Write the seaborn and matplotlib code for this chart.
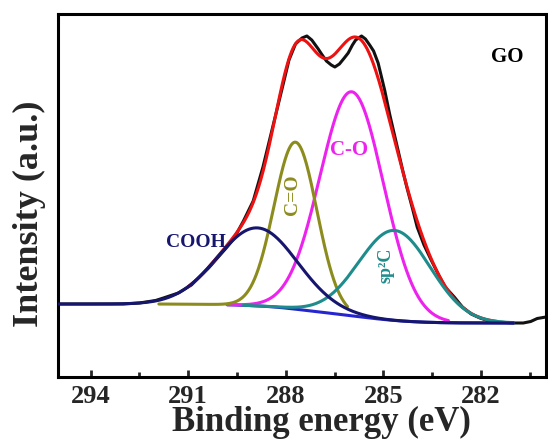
import numpy as np
import seaborn as sns
import matplotlib.pyplot as plt

# raw C1s spectrum of GO (binding energy in eV, intensity in a.u.)
raw_be = [295.0, 294.0, 293.0, 292.5, 292.0, 291.76, 291.3, 290.9, 290.37, 289.83,
          289.6, 289.3, 289.0, 288.7, 288.4, 288.1, 287.9, 287.7, 287.5, 287.35,
          287.2, 287.0, 286.9, 286.75, 286.6, 286.49, 286.35, 286.2, 286.08, 285.95,
          285.85, 285.67, 285.55, 285.42, 285.3, 285.16, 284.96, 284.8, 284.6, 284.4,
          284.28, 284.1, 283.96, 283.75, 283.53, 283.3, 283.1, 282.82, 282.57, 282.3,
          282.03, 281.75, 281.5, 281.25, 280.98, 280.7, 280.47, 280.27, 280.0]
raw_int = [73, 73, 73, 74, 76.5, 79, 84, 92, 109, 129,
           138, 156, 176, 210, 250, 290, 317, 333, 339, 341,
           337, 328, 323, 316, 312, 310, 313, 319, 324, 332,
           337, 341, 338, 332, 326, 314, 287, 262, 234, 206,
           190, 168, 150, 132, 117, 102, 90, 80, 70, 63,
           59, 56, 55, 54.5, 54, 54, 55.5, 58.5, 60]

# fitted components
comp_names = ['COOH', 'C=O', 'C-O', 'sp²C']
comp_center = [288.87, 287.70, 285.97, 284.65]
comp_height = [78, 167, 224, 90]
comp_fwhm = [2.9, 1.55, 2.3, 2.6]
comp_from = [295.0, 291.9, 289.8, 289.3]
comp_to = [281.0, 286.1, 283.0, 281.0]
comp_colors = ['#16166e', '#8c8c1e', '#ee22ee', '#1f8c8c']

# Shirley background end points
bg_high = 73.0
bg_low = 54.0

sns.set_style('ticks')
plt.rcParams['font.family'] = ['Liberation Serif', 'DejaVu Serif']
plt.rcParams['font.weight'] = 'bold'

be = np.linspace(295.0, 281.0, 1401)
peaks = [h * np.exp(-4 * np.log(2) * (be - c) ** 2 / w ** 2)
         for c, h, w in zip(comp_center, comp_height, comp_fwhm)]
total = np.sum(peaks, axis=0)
cum = np.cumsum(total[::-1])[::-1]
bg = bg_low + (bg_high - bg_low) * cum / cum[0]
envelope = bg + total

fig = plt.figure(figsize=(5.48, 4.41), dpi=100)
ax = fig.add_axes([58 / 548, 64 / 441, 488 / 548, 363 / 441])

lw = 2.2
sns.lineplot(x=raw_be, y=raw_int, ax=ax, color='#111111', lw=lw, estimator=None, zorder=2)
m = (be <= 291.0) & (be >= 281.5)
sns.lineplot(x=be[m], y=envelope[m], ax=ax, color='#ee1111', lw=lw, estimator=None, zorder=3)
m = (be <= 289.8)
sns.lineplot(x=be[m], y=bg[m], ax=ax, color='#2626d0', lw=lw, estimator=None, zorder=3.5)
order = [2, 1, 3, 0]
for i in order:
    m = (be <= comp_from[i]) & (be >= comp_to[i])
    sns.lineplot(x=be[m], y=(bg + peaks[i])[m], ax=ax, color=comp_colors[i], lw=lw,
                 estimator=None, zorder=4 + order.index(i) * 0.1)

ax.text(290.77, 134.7, 'COOH', color=comp_colors[0], fontsize=14, fontweight='bold',
        ha='center', va='center')
ax.text(287.80, 182, 'C=O', color=comp_colors[1], fontsize=14, fontweight='bold',
        ha='center', va='center', rotation=90)
ax.text(286.04, 227, 'C-O', color=comp_colors[2], fontsize=15, fontweight='bold',
        ha='center', va='center')
ax.text(284.92, 112, 'sp²C', color=comp_colors[3], fontsize=13, fontweight='bold',
        ha='center', va='center', rotation=90)
ax.text(281.2, 320, 'GO', color='black', fontsize=15, fontweight='bold',
        ha='center', va='center')

ax.set_xlim(295, 280)
ax.set_ylim(0, 363)
ax.set_xticks([294, 291, 288, 285, 282])
ax.set_xticks([292.5, 289.5, 286.5, 283.5, 280.5], minor=True)
ax.set_yticks([])
ax.tick_params(axis='x', which='major', direction='in', length=5, width=2,
               labelsize=19, pad=6)
ax.tick_params(axis='x', which='minor', direction='in', length=3.5, width=2)
for s in ax.spines.values():
    s.set_linewidth(2.2)
    s.set_color('black')

ax.set_xlabel('Binding energy (eV)', fontsize=25, fontweight='bold')
ax.xaxis.label.set_va('baseline')
ax.xaxis.set_label_coords(0.539, (377 - 431) / 363)
ax.set_ylabel('Intensity (a.u.)', fontsize=26, fontweight='bold')
ax.yaxis.label.set_va('center')
ax.yaxis.set_label_coords(-0.059, 0.45)

fig.savefig('out.png', dpi=100)
